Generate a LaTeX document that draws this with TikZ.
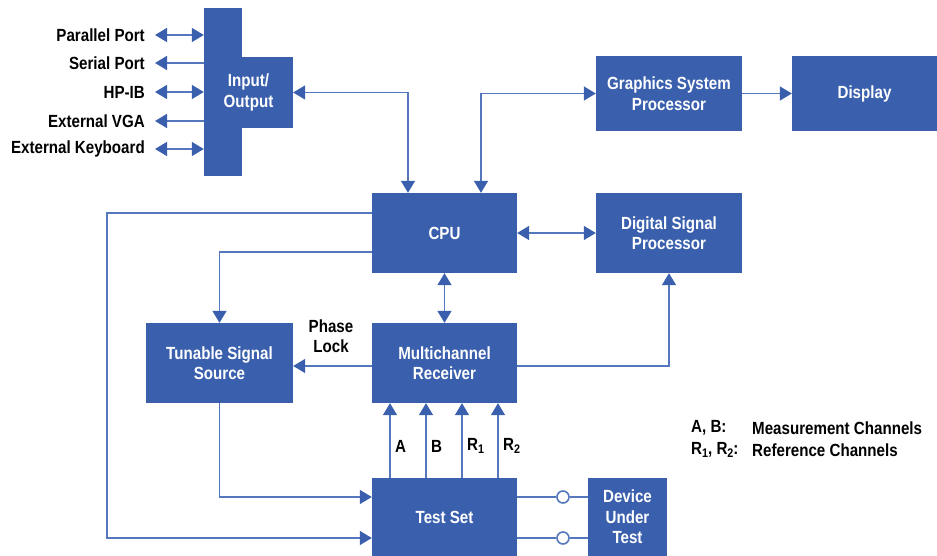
\documentclass[tikz,border=0pt]{standalone}
\usepackage{fontspec}
\setmainfont{Liberation Sans}[FakeStretch=0.86]
\usetikzlibrary{arrows.meta}
\definecolor{hpblue}{HTML}{3A60AD}
\definecolor{lineblue}{HTML}{5477BE}
\tikzset{
  box/.style={fill=hpblue, draw=none, text=white, font=\bfseries\fontsize{17.6}{20.5}\selectfont, align=center, inner sep=0pt},
  lbl/.style={text=black, font=\bfseries\fontsize{17.6}{20.5}\selectfont, align=center, inner sep=0pt},
  conn/.style={draw=lineblue, line width=1.6pt, >={Triangle[length=12pt,width=14pt,color=hpblue]}},
  port/.style={draw=lineblue, line width=1.6pt, fill=white, circle, minimum size=12pt, inner sep=0pt},
}
\newcommand{\sbs}[1]{\raisebox{-0.35ex}{\fontsize{12.5}{13}\selectfont #1}}
\begin{document}
\begin{tikzpicture}[x=1pt,y=-1pt]
\useasboundingbox (0,0) rectangle (937,556);
% I/O cross shape
\node[box, minimum width=38pt, minimum height=168pt] (io) at (223,92) {};
\node[box, minimum width=89pt, minimum height=71pt] (iow) at (248.5,92.5) {Input/\\Output};
% ports
\node[lbl, anchor=east] (p1) at (145,35) {Parallel Port};
\node[lbl, anchor=east] (p2) at (145,63) {Serial Port};
\node[lbl, anchor=east] (p3) at (145,92) {HP-IB};
\node[lbl, anchor=east] (p4) at (145,121) {External VGA};
\node[lbl, anchor=east] (p5) at (145,149) {External Keyboard};
\draw[conn,<->] ([xshift=10pt]p1.east) -- (p1.east -| io.west);
\draw[conn,<-] ([xshift=10pt]p2.east) -- (p2.east -| io.west);
\draw[conn,<->] ([xshift=10pt]p3.east) -- (p3.east -| io.west);
\draw[conn,<-] ([xshift=10pt]p4.east) -- (p4.east -| io.west);
\draw[conn,<->] ([xshift=10pt]p5.east) -- (p5.east -| io.west);
% main boxes
\node[box, minimum width=146pt, minimum height=75pt] (gsp) at (669,93.5) {Graphics System\\Processor};
\node[box, minimum width=145pt, minimum height=75pt] (disp) at (864.5,93.5) {Display};
\node[box, minimum width=145pt, minimum height=80pt] (cpu) at (444.5,233) {CPU};
\node[box, minimum width=146pt, minimum height=80pt] (dsp) at (669,233) {Digital Signal\\Processor};
\node[box, minimum width=147pt, minimum height=80pt] (tss) at (219.5,363) {Tunable Signal\\Source};
\node[box, minimum width=145pt, minimum height=80pt] (mr) at (444.5,363) {Multichannel\\Receiver};
\node[box, minimum width=145pt, minimum height=78pt] (ts) at (444.5,517) {Test Set};
\node[box, minimum width=79pt, minimum height=78pt] (dut) at (627.5,517) {Device\\Under\\Test};
% connectors
\draw[conn,<->] (iow.east) -| ([xshift=-36.5pt]cpu.north);
\draw[conn,<->] ([xshift=36.5pt]cpu.north) |- (gsp.west);
\draw[conn,->] (gsp.east) -- (disp.west);
\draw[conn,<->] (cpu.east) -- (dsp.west);
\draw[conn,<->] (cpu.south) -- (mr.north);
\draw[conn,->] ([yshift=-3pt]mr.west) -- ([yshift=-3pt]mr.west -| tss.east);
\draw[conn,->] ([yshift=-3pt]mr.east) -| (dsp.south);
\draw[conn,->] ([yshift=-19pt]cpu.west) -| (tss.north);
\coordinate (lc) at (107,213);
\draw[conn,->] ([yshift=20pt]cpu.west) -- (lc) |- ([yshift=-21pt]ts.west);
\draw[conn,->] (tss.south) |- ([yshift=20pt]ts.west);
\node[lbl] (pl) at (331,336) {Phase\\Lock};
% channels
\foreach \dx/\nm/\lab in {-54.5/ca/A, -18.5/cb/B, 17.5/cr1/{R\sbs{1}}, 53.5/cr2/{R\sbs{2}}}{
  \draw[conn,->] ([xshift=\dx pt]ts.north) -- ([xshift=\dx pt]mr.south);
  \node[lbl, anchor=west] (\nm) at ([xshift=\dx pt + 5pt, yshift=-2pt]ts.north |- 0,444) {\lab};
}
% DUT ports
\node[port] (c1) at (563,497) {};
\node[port] (c2) at (563,538) {};
\draw[conn] (c1.west -| ts.east) -- (c1.west);
\draw[conn] (c1.east) -- (c1.east -| dut.west);
\draw[conn] (c2.west -| ts.east) -- (c2.west);
\draw[conn] (c2.east) -- (c2.east -| dut.west);
% legend
\node[lbl, anchor=west] (lg1) at (691,428) {A, B:};
\node[lbl, anchor=west] (lg2) at (752,428) {Measurement Channels};
\node[lbl, anchor=west] (lg3) at (691,450) {R\sbs{1}, R\sbs{2}:};
\node[lbl, anchor=west] (lg4) at (752,450) {Reference Channels};
\end{tikzpicture}
\end{document}
